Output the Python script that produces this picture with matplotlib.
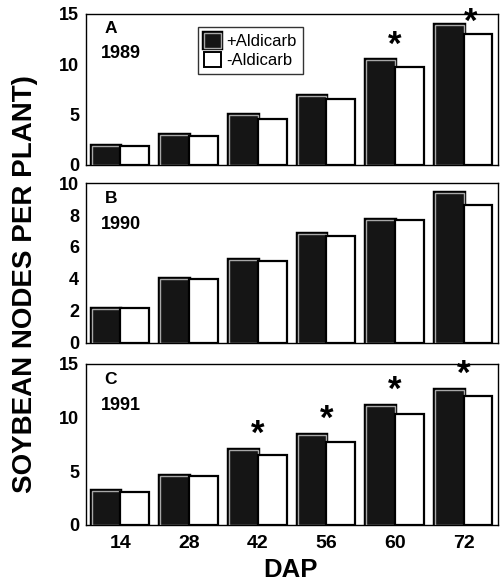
import numpy as np
import matplotlib
matplotlib.use("Agg")
import matplotlib.pyplot as plt
import matplotlib.patheffects as pe
from matplotlib.patches import Patch

plt.rcParams['font.family'] = ['Liberation Sans', 'DejaVu Sans']
plt.rcParams['font.weight'] = 'bold'

dap = ['14', '28', '42', '56', '60', '72']

# 1989
plus_89 = [1.9, 3.0, 5.0, 6.9, 10.4, 13.9]
minus_89 = [1.9, 2.9, 4.6, 6.6, 9.7, 13.0]
stars_89 = [False, False, False, False, True, True]

# 1990
plus_90 = [2.1, 4.0, 5.2, 6.8, 7.7, 9.4]
minus_90 = [2.2, 4.0, 5.1, 6.7, 7.7, 8.6]
stars_90 = [False] * 6

# 1991
plus_91 = [3.2, 4.6, 7.0, 8.4, 11.1, 12.6]
minus_91 = [3.1, 4.6, 6.5, 7.7, 10.3, 12.0]
stars_91 = [False, False, True, True, True, True]

panels = [
    ('A', '1989', plus_89, minus_89, stars_89, 15, [0, 5, 10, 15]),
    ('B', '1990', plus_90, minus_90, stars_90, 10, [0, 2, 4, 6, 8, 10]),
    ('C', '1991', plus_91, minus_91, stars_91, 15, [0, 5, 10, 15]),
]
boxes = [(0.171, 0.717, 0.817, 0.259),
         (0.171, 0.412, 0.817, 0.274),
         (0.171, 0.0995, 0.817, 0.2765)]

fig = plt.figure(figsize=(5.04, 5.83), dpi=100)
x = np.arange(len(dap))
w = 0.42
dark_fx = [pe.Stroke(linewidth=3.2, foreground='black'), pe.Normal()]

axes = []
for (lab, year, plus, minus, stars, ymax, ticks), box in zip(panels, boxes):
    ax = fig.add_axes(box)
    axes.append(ax)
    b1 = ax.bar(x - w / 2, plus, w, color='#151515', edgecolor='#a8a8a8',
                linewidth=1.0, zorder=3)
    for p in b1:
        p.set_path_effects(dark_fx)
    ax.bar(x + w / 2, minus, w, color='white', edgecolor='black',
           linewidth=1.6, zorder=3)
    for i, s in enumerate(stars):
        if not s:
            continue
        top = max(plus[i], minus[i])
        if top > 0.85 * ymax:
            # no room above: star sits against the top of the frame
            xy, off = (x[i] + 0.1, ymax), (0, -6)
        else:
            xy, off = (x[i], top), (0, 11)
        ax.annotate('*', xy, xytext=off, textcoords='offset points',
                    ha='center', va='center', fontsize=25, fontweight='bold',
                    annotation_clip=False)
    ax.set_xlim(-0.5, len(dap) - 0.5)
    ax.set_ylim(0, ymax)
    ax.set_yticks(ticks)
    ax.tick_params(axis='y', length=0, pad=5, labelsize=13)
    ax.tick_params(axis='x', length=0, pad=7, labelsize=14)
    ax.set_xticks(x)
    if lab == 'C':
        ax.set_xticklabels(dap)
    else:
        ax.set_xticklabels([])
    for sp in ax.spines.values():
        sp.set_linewidth(1.0)
    ax.text(0.06, 0.905, lab, transform=ax.transAxes, ha='center',
            va='center', fontsize=12.5, fontweight='bold')
    ax.text(0.035, 0.74, year, transform=ax.transAxes, ha='left',
            va='center', fontsize=13, fontweight='bold')

handles = [Patch(facecolor='#151515', edgecolor='#a8a8a8', linewidth=1.0,
                 path_effects=dark_fx, label='+Aldicarb'),
           Patch(facecolor='white', edgecolor='black', linewidth=1.4,
                 label='-Aldicarb')]
leg = axes[0].legend(handles=handles, loc='upper left',
                     bbox_to_anchor=(0.272, 0.914), frameon=True,
                     fancybox=False, edgecolor='black', handlelength=1.0,
                     handleheight=1.0, handletextpad=0.35, borderpad=0.35,
                     labelspacing=0.2, borderaxespad=0,
                     prop={'weight': 'normal', 'size': 12})
leg.get_frame().set_linewidth(1.0)

fig.text(0.05, 0.513, 'SOYBEAN NODES PER PLANT)', rotation=90, ha='center',
         va='center', fontsize=20, fontweight='bold')
fig.text(0.577, 0.022, 'DAP', ha='center', va='center', fontsize=18.5,
         fontweight='bold')

fig.savefig('out.png', dpi=100)
